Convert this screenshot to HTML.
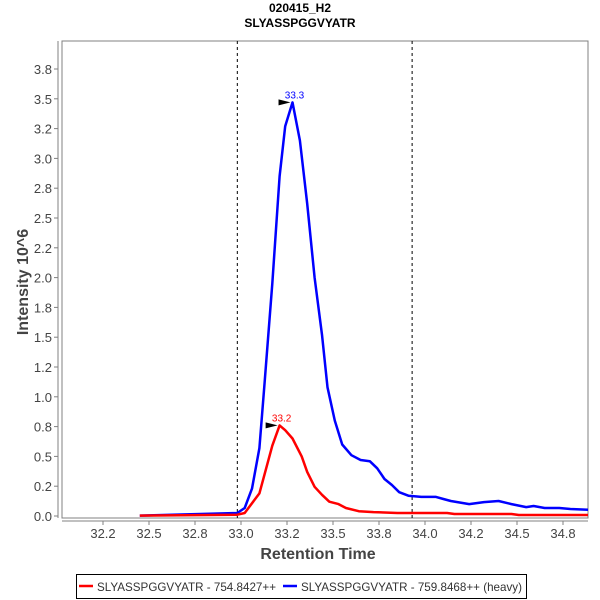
<!DOCTYPE html>
<html><head><meta charset="utf-8"><style>
body{margin:0;background:#fff;}
svg{display:block;font-family:"Liberation Sans",sans-serif;}
</style></head><body>
<svg id="chart" width="600" height="600" viewBox="0 0 600 600">
<defs><clipPath id="pc"><rect x="62" y="41" width="526" height="477"/></clipPath></defs>
<text x="300" y="12" text-anchor="middle" font-size="12" font-weight="bold" fill="#000">020415_H2</text>
<text x="300" y="27" text-anchor="middle" font-size="12" font-weight="bold" fill="#000">SLYASSPGGVYATR</text>
<rect x="62" y="41" width="526" height="477" fill="#fff" stroke="#808080" stroke-width="1"/>
<line x1="58" y1="41" x2="58" y2="518" stroke="#808080"/>
<line x1="62" y1="521" x2="588" y2="521" stroke="#808080"/>
<g id="yticks"></g><g id="xticks"></g>
<g id="vlines"></g>
<g id="series" clip-path="url(#pc)"></g>
<text x="318" y="559" text-anchor="middle" font-size="16" font-weight="bold" fill="#444">Retention Time</text>
<text transform="translate(28,282) rotate(-90)" text-anchor="middle" font-size="16" font-weight="bold" fill="#444">Intensity 10^6</text>
<g>
<rect x="76.5" y="574.5" width="450" height="24" fill="#fff" stroke="#000"/>
<line x1="79" y1="586" x2="93" y2="586" stroke="#f00" stroke-width="2.5"/>
<text x="97" y="591" font-size="12" fill="#333" textLength="179" lengthAdjust="spacingAndGlyphs">SLYASSPGGVYATR - 754.8427++</text>
<line x1="283" y1="586" x2="297" y2="586" stroke="#00f" stroke-width="2.5"/>
<text x="301" y="591" font-size="12" fill="#333" textLength="221" lengthAdjust="spacingAndGlyphs">SLYASSPGGVYATR - 759.8468++ (heavy)</text>
</g>
</svg>
<script>
const xTickValues=[32.25,32.5,32.75,33.0,33.25,33.5,33.75,34.0,34.25,34.5,34.75];
const xTickLabels=["32.2","32.5","32.8","33.0","33.2","33.5","33.8","34.0","34.2","34.5","34.8"];
const yTickValues=[0,0.25,0.5,0.75,1,1.25,1.5,1.75,2,2.25,2.5,2.75,3,3.25,3.5,3.75];
const yTickLabels=["0.0","0.2","0.5","0.8","1.0","1.2","1.5","1.8","2.0","2.2","2.5","2.8","3.0","3.2","3.5","3.8"];
const boundaries=[32.98,33.93];
const lightTimes=[32.45,32.98,33.02,33.10,33.17,33.21,33.24,33.28,33.33,33.36,33.40,33.44,33.48,33.53,33.57,33.64,33.72,33.85,34.12,34.16,34.47,34.51,34.92];
const lightValues=[0.003,0.011,0.025,0.19,0.59,0.76,0.72,0.65,0.50,0.37,0.245,0.178,0.12,0.10,0.067,0.04,0.033,0.025,0.025,0.017,0.017,0.008,0.008];
const heavyTimes=[32.45,32.98,33.02,33.06,33.10,33.13,33.17,33.21,33.24,33.28,33.32,33.36,33.40,33.44,33.47,33.51,33.55,33.60,33.65,33.70,33.74,33.78,33.82,33.86,33.91,33.98,34.06,34.10,34.14,34.24,34.32,34.40,34.47,34.55,34.59,34.65,34.73,34.79,34.92];
const heavyValues=[0.003,0.025,0.067,0.23,0.57,1.15,1.95,2.85,3.27,3.47,3.15,2.62,2.00,1.52,1.08,0.80,0.60,0.51,0.47,0.46,0.40,0.31,0.26,0.20,0.17,0.16,0.16,0.143,0.126,0.10,0.117,0.126,0.10,0.075,0.084,0.067,0.067,0.059,0.05];
const peakLight={t:33.21,v:0.76,label:"33.2"};
const peakHeavy={t:33.28,v:3.47,label:"33.3"};
const NS="http://www.w3.org/2000/svg";
const X=v=>241+(v-33)*184;
const Y=v=>516-v*119.2;
function mk(tag,attrs,parent){const e=document.createElementNS(NS,tag);for(const k in attrs)e.setAttribute(k,attrs[k]);parent.appendChild(e);return e;}
const yt=document.getElementById('yticks');
yTickValues.forEach((v,i)=>{
 const l=mk('line',{x1:54,x2:58,y1:Y(v),y2:Y(v),stroke:'#808080'},yt);
 
 
 const t=mk('text',{x:52,y:Y(v)+5,'text-anchor':'end','font-size':13,fill:'#444'},yt);
 t.textContent=yTickLabels[i];
 
 
});
const xt=document.getElementById('xticks');
xTickValues.forEach((v,i)=>{
 const l=mk('line',{x1:X(v),x2:X(v),y1:521,y2:525,stroke:'#808080'},xt);
 
 
 const t=mk('text',{x:X(v),y:538,'text-anchor':'middle','font-size':13,fill:'#444'},xt);
 t.textContent=xTickLabels[i];
 
 
});
const vl=document.getElementById('vlines');
boundaries.forEach(b=>{
 const l=mk('line',{x1:X(b),x2:X(b),y1:41,y2:518,stroke:'#000','stroke-dasharray':'3,3','stroke-width':1},vl);
 
 
});
const sg=document.getElementById('series');
function series(ts,vs,color,name){
 const pts=ts.map((t,i)=>X(t).toFixed(1)+','+Y(vs[i]).toFixed(1)).join(' ');
 const p=mk('polyline',{points:pts,fill:'none',stroke:color,'stroke-width':2.5,'stroke-linejoin':'round'},sg);
 
 
}
function peak(pk,color,name){
 const x=X(pk.t),y=Y(pk.v);
 const a=mk('polygon',{points:`${x-14},${y-3} ${x-2},${y} ${x-14},${y+3}`,fill:'#000'},sg);
 
 
 const t=mk('text',{x:x+2,y:y-4,'text-anchor':'middle','font-size':10,fill:color},sg);
 t.textContent=pk.label;
 
 
}
series(heavyTimes,heavyValues,'#00f','heavy-series-line');
series(lightTimes,lightValues,'#f00','light-series-line');
peak(peakLight,'#f00','light-peak');
peak(peakHeavy,'#00f','heavy-peak');
</script>
</body></html>
